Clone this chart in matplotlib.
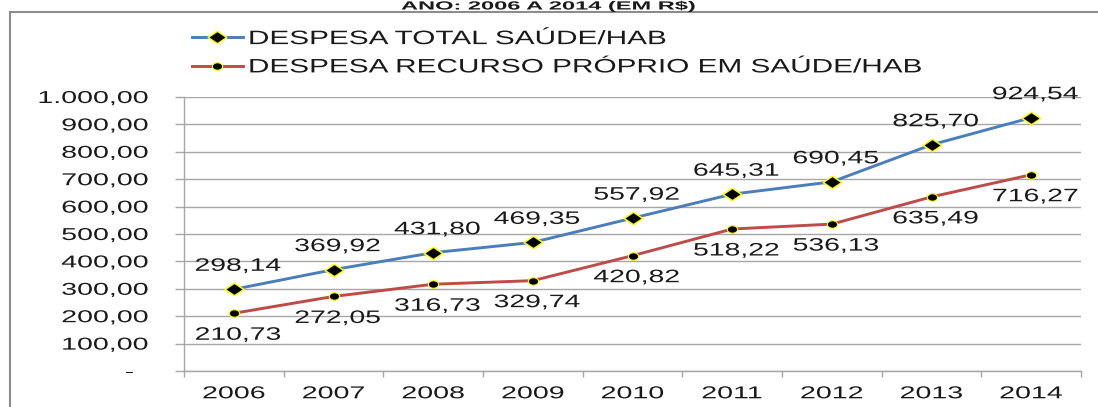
import matplotlib
matplotlib.use("Agg")
import matplotlib.pyplot as plt
import numpy as np
from matplotlib.path import Path
from matplotlib.patheffects import AbstractPathEffect
from matplotlib.transforms import Affine2D
from matplotlib.patches import Rectangle
from matplotlib.ticker import FixedLocator

# ---------------- data ----------------
years = ["2006", "2007", "2008", "2009", "2010", "2011", "2012", "2013", "2014"]
despesa_total = [298.14, 369.92, 431.80, 469.35, 557.92, 645.31, 690.45, 825.70, 924.54]
despesa_propria = [210.73, 272.05, 316.73, 329.74, 420.82, 518.22, 536.13, 635.49, 716.27]
label_total = "DESPESA TOTAL SAÚDE/HAB"
label_propria = "DESPESA RECURSO PRÓPRIO EM SAÚDE/HAB"
title_text = "ANO: 2006 A 2014 (EM R$)"
ytick_values = [0, 100, 200, 300, 400, 500, 600, 700, 800, 900, 1000]
ytick_labels = ["-   ", "100,00", "200,00", "300,00", "400,00", "500,00",
                "600,00", "700,00", "800,00", "900,00", "1.000,00"]


def fmt(v):
    return f"{v:,.2f}".replace(",", "X").replace(".", ",").replace("X", ".")


# ---------------- horizontal text stretch (original chart is widened) ----------------
class Stretch(AbstractPathEffect):
    def __init__(self, sx, anchor="center"):
        super().__init__()
        self.sx = sx
        self.anchor = anchor

    def draw_path(self, renderer, gc, tpath, affine, rgbFace=None):
        ext = tpath.get_extents(affine)
        if self.anchor == "left":
            x0 = ext.x0
        elif self.anchor == "right":
            x0 = ext.x1
        else:
            x0 = 0.5 * (ext.x0 + ext.x1)
        new = affine + Affine2D().translate(-x0, 0).scale(self.sx, 1.0).translate(x0, 0)
        renderer.draw_path(gc, tpath, new, rgbFace)


plt.rcParams["font.family"] = ["Liberation Sans", "DejaVu Sans"]

W, H = 1098, 407
fig = plt.figure(figsize=(W / 100, H / 100), dpi=100)
fig.patch.set_facecolor("white")

ax = fig.add_axes([184 / W, 1 - 371 / H, (1081 - 184) / W, (371 - 97) / H])

x = np.arange(len(years))

diamond = Path([(-1.5, 0), (0, 1), (1.5, 0), (0, -1), (-1.5, 0)],
               [Path.MOVETO, Path.LINETO, Path.LINETO, Path.LINETO, Path.CLOSEPOLY])
uc = Path.unit_circle()
ellipse = Path(uc.vertices * np.array([1.37, 1.0]), uc.codes)

blue = "#4A7EBB"
red = "#BE4B48"

ax.plot(x, despesa_total, color=blue, lw=2.1, marker=diamond, ms=13.5,
        mfc="black", mec="#FFFF00", mew=1.1, label=label_total, zorder=3)
ax.plot(x, despesa_propria, color=red, lw=2.1, marker=ellipse, ms=7.4,
        mfc="black", mec="#FFFF00", mew=0.8, label=label_propria, zorder=3)

lbl_fx = [Stretch(1.57, "center")]
for xi, v in zip(x, despesa_total):
    ax.annotate(fmt(v), (xi, v), xytext=(4, 23), textcoords="offset pixels",
                ha="center", va="center", fontsize=13, color="#1a1a1a",
                path_effects=lbl_fx, zorder=4)
for xi, v in zip(x, despesa_propria):
    ax.annotate(fmt(v), (xi, v), xytext=(4, -22), textcoords="offset pixels",
                ha="center", va="center", fontsize=13, color="#1a1a1a",
                path_effects=lbl_fx, zorder=4)

# axes formatting
ax.set_xlim(-0.5, len(years) - 0.5)
ax.set_ylim(0, 1000)
ax.set_yticks(ytick_values)
ax.set_yticklabels(ytick_labels)
ax.set_xticks(x)
ax.set_xticklabels(years)
ax.xaxis.set_minor_locator(FixedLocator(np.arange(-0.5, len(years), 1.0)))

grid_c = "#A6A6A6"
ax.yaxis.grid(True, color=grid_c, lw=1.0)
ax.set_axisbelow(True)
for s in ["top", "right"]:
    ax.spines[s].set_visible(False)
for s in ["left", "bottom"]:
    ax.spines[s].set_color(grid_c)
    ax.spines[s].set_linewidth(1.0)

ax.tick_params(axis="y", length=6.5, width=1.0, color=grid_c, pad=19.5,
               labelsize=12.4, labelcolor="#1a1a1a")
ax.tick_params(axis="x", which="major", length=0, pad=11,
               labelsize=12.4, labelcolor="#1a1a1a")
ax.tick_params(axis="x", which="minor", length=4, width=1.0, color=grid_c)

for t in ax.get_yticklabels():
    t.set_path_effects([Stretch(1.66, "right")])
for t in ax.get_xticklabels():
    t.set_path_effects([Stretch(1.66, "center")])

# legend
leg = ax.legend(loc="upper left", bbox_to_anchor=(192 / W, 1 - 30.5 / H),
                bbox_transform=fig.transFigure, frameon=False, fontsize=14,
                borderpad=0, borderaxespad=0, handlelength=2.62,
                handletextpad=0.3, labelspacing=0.55)
for t in leg.get_texts():
    t.set_color("#1a1a1a")
    t.set_path_effects([Stretch(1.53, "left")])

# outer chart frame (partially visible) and title above it
fig.add_artist(Rectangle((10 / W, -0.5), 2.0, (1 - 12 / H) + 0.5,
                         transform=fig.transFigure, fill=False,
                         edgecolor="#8C8C8C", lw=1.5))
fig.text(548 / W, 1 - 9.5 / H, title_text, ha="center", va="baseline",
         fontsize=8.5, fontweight="bold", color="#1a1a1a",
         path_effects=[Stretch(2.0, "center")])

fig.savefig("out.png", dpi=100, facecolor="white")
